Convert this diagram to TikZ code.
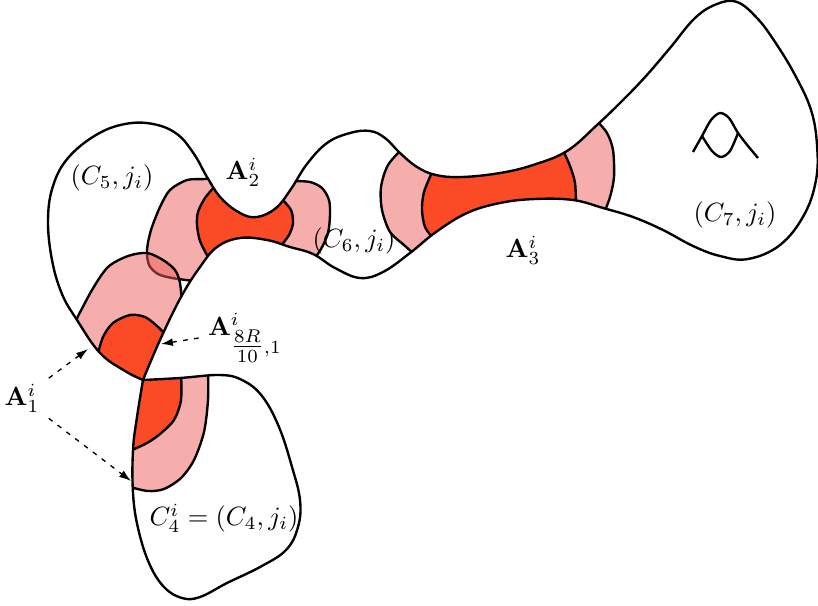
\documentclass[tikz,border=0pt]{standalone}
\usepackage{amsmath}
\usepackage{amssymb}
\usepackage{xcolor}
\usepackage{tikz}
\usetikzlibrary{arrows.meta}

\definecolor{zonepink}{RGB}{235,93,89}
\definecolor{zonered}{RGB}{251,74,38}

% outlines of the two pieces
\newcommand{\mainblob}{plot[smooth, tension=0.65] coordinates {(143,380) (125,371) (100,353) (77,320) (62,294) (52,260) (48,220) (53,186) (68,158) (96,135) (125,124) (153,124) (177,134) (194,154) (207,177) (221,198) (240,213) (257,217) (276,208) (291,189) (307,164) (327,143) (350,133) (370,131) (385,138) (400,153) (417,167) (436,175) (462,177) (500,173) (533,165) (567,151) (597,125) (623,100) (646,76) (670,48) (695,18) (717,4) (737,2) (757,18) (775,42) (795,75) (811,110) (817,145) (816,180) (804,215) (780,245) (748,259) (720,256) (693,246) (663,230) (633,217) (603,208) (573,200) (535,199) (500,203) (467,213) (436,232) (410,253) (383,272) (360,278) (335,268) (313,254) (290,247) (267,240) (240,238) (217,247) (200,267) (181,297) (160,340) (143,380)}}
\newcommand{\cfourblob}{plot[smooth, tension=0.65] coordinates {(143,380) (180,378) (220,375) (242,380) (262,396) (279,427) (292,467) (300,500) (298,527) (286,550) (260,567) (227,583) (200,597) (182,598) (164,587) (149,563) (138,528) (133,493) (133,450) (137,417) (143,380)}}

\begin{document}
\begin{tikzpicture}[
    x=0.0133cm, y=-0.0133cm,
    outline/.style={draw, line width=0.9pt, line join=round},
    edge/.style={draw, line width=0.9pt},
    lightzone/.style={fill=zonepink, fill opacity=0.5},
    darkzone/.style={fill=zonered},
    pointer/.style={-{Latex[length=4.5pt,width=3pt]}, line width=0.5pt, dash pattern=on 1.8pt off 2.4pt}
]
\useasboundingbox (0,0) rectangle (818,605);

% Zones in the upper piece
\begin{scope}
\clip \mainblob -- cycle;
% A2
\fill[lightzone] plot[smooth] coordinates {(213,176) (205,179) (187,180) (170,190) (160,207) (151,230) (147,250) (149,265) (158,274) (172,278) (194,281)}
    -- (330,300) -- plot[smooth] coordinates {(312,262) (321,249) (328,233) (330,215) (329,200) (322,188) (310,182) (293,181)}
    -- (293,140) -- (213,140) -- cycle;
\draw[edge] plot[smooth] coordinates {(213,176) (205,179) (187,180) (170,190) (160,207) (151,230) (147,250) (149,265) (158,274) (172,278) (194,281)};
\draw[edge] plot[smooth] coordinates {(312,262) (321,249) (328,233) (330,215) (329,200) (322,188) (310,182) (293,181)};
% A3
\fill[lightzone] plot[smooth] coordinates {(403,148) (388,165) (381,187) (382,210) (390,232) (404,245) (414,254)}
    -- (604,300) -- plot[smooth] coordinates {(604,213) (610,197) (614,177) (613,150) (607,133) (596,120)}
    -- (596,90) -- (403,90) -- cycle;
\draw[edge] plot[smooth] coordinates {(403,148) (388,165) (381,187) (382,210) (390,232) (404,245) (414,254)};
\draw[edge] plot[smooth] coordinates {(604,213) (610,197) (614,177) (613,150) (607,133) (596,120)};
% C5 side
\fill[lightzone] plot[smooth] coordinates {(74,324) (92,290) (108,267) (128,256) (147,253) (163,260) (175,270) (180,283) (182,305)}
    -- (182,400) -- (60,400) -- cycle;
\draw[edge] plot[smooth] coordinates {(74,324) (92,290) (108,267) (128,256) (147,253) (163,260) (175,270) (180,283) (182,305)};
\fill[darkzone] plot[smooth] coordinates {(97,357) (103,337) (113,323) (130,315) (145,317) (157,326) (166,335)}
    -- (166,400) -- (90,400) -- cycle;
\draw[edge] plot[smooth] coordinates {(97,357) (103,337) (113,323) (130,315) (145,317) (157,326) (166,335)};
% dark parts of A2 and A3
\fill[darkzone] plot[smooth] coordinates {(216,185) (205,198) (198,212) (197,225) (200,241) (208,257) (212,263)}
    -- (280,300) -- plot[smooth] coordinates {(280,247) (289,235) (293,223) (291,210) (281,198)}
    -- (281,150) -- (216,150) -- cycle;
\draw[edge] plot[smooth] coordinates {(216,185) (205,198) (198,212) (197,225) (200,241) (208,257) (212,263)};
\draw[edge] plot[smooth] coordinates {(280,247) (289,235) (293,223) (291,210) (281,198)};
\fill[darkzone] plot[smooth] coordinates {(433,170) (424,192) (422,210) (425,227) (433,238)}
    -- (576,300) -- plot[smooth] coordinates {(576,204) (575,183) (570,166) (562,148)}
    -- (562,100) -- (433,100) -- cycle;
\draw[edge] plot[smooth] coordinates {(433,170) (424,192) (422,210) (425,227) (433,238)};
\draw[edge] plot[smooth] coordinates {(576,204) (575,183) (570,166) (562,148)};
\end{scope}

% Zones in C4
\begin{scope}
\clip \cfourblob -- cycle;
\fill[lightzone] plot[smooth] coordinates {(208,370) (208,400) (204,432) (194,460) (181,478) (164,489) (148,491) (130,487)}
    -- (110,487) -- (110,360) -- cycle;
\draw[edge] plot[smooth] coordinates {(208,370) (208,400) (204,432) (194,460) (181,478) (164,489) (148,491) (130,487)};
\fill[darkzone] plot[smooth] coordinates {(181,372) (181,400) (174,420) (160,434) (147,443) (130,451)}
    -- (110,451) -- (110,360) -- cycle;
\draw[edge] plot[smooth] coordinates {(181,372) (181,400) (174,420) (160,434) (147,443) (130,451)};
\end{scope}

% Outlines
\draw[outline] \mainblob -- cycle;
\draw[outline] \cfourblob -- cycle;

% small curve in C7
\draw[edge] plot[smooth] coordinates {(693,152) (702,136) (711,120) (720,113) (729,118) (738,133) (748,146) (758,158)};
\draw[edge] plot[smooth] coordinates {(702,136) (712,151) (721,157) (730,151) (738,133)};

% Nodes
\node (cfive) at (112,178) {$(C_5,j_i)$};
\node (atwo) at (243,172) {$\mathbf{A}_2^i$};
\node (csix) at (354,241) {$(C_6,j_i)$};
\node (athree) at (523,250) {$\mathbf{A}_3^i$};
\node (cseven) at (735,215) {$(C_7,j_i)$};
\node (aeight) at (245,338) {$\mathbf{A}^i_{\tfrac{8R}{10},1}$};
\node (aone) at (22,398) {$\mathbf{A}_1^i$};
\node (cfour) at (224,518) {$C_4^i=(C_4,j_i)$};

\coordinate (aonetop) at (88,349);
\coordinate (aonebottom) at (131,481);
\coordinate (aeighttip) at (161,344);

% Arrows
\draw[pointer] (aone) -- (aonetop);
\draw[pointer] (aone) -- (aonebottom);
\draw[pointer] (aeight.west) -- (aeighttip);

\end{tikzpicture}
\end{document}
